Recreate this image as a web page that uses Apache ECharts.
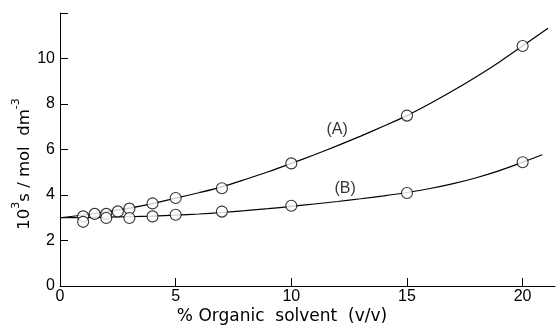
<!DOCTYPE html>
<html>
<head>
<meta charset="utf-8">
<script src="https://cdn.jsdelivr.net/npm/echarts@6/dist/echarts.min.js"></script>
<style>html,body{margin:0;padding:0;background:#fff;}#c{width:560px;height:326px;}</style>
</head>
<body>
<div id="c"></div>
<script>
// measured points
var xA = [1, 1.5, 2, 2.5, 3, 4, 5, 7, 10, 15, 20];
var yA = [3.06, 3.17, 3.17, 3.28, 3.40, 3.63, 3.87, 4.30, 5.39, 7.49, 10.55];
var xB = [1, 2, 3, 4, 5, 7, 10, 15, 20];
var yB = [2.82, 2.99, 2.99, 3.06, 3.13, 3.27, 3.53, 4.09, 5.44];
// fitted curves
var curveAx = [0, 1, 2, 3, 4, 5, 6, 7, 8, 9, 10, 11, 12, 13, 14, 15, 16, 17, 18, 19, 20, 21.1];
var curveAy = [3.0, 3.12, 3.26, 3.42, 3.62, 3.86, 4.1, 4.36, 4.68, 5.02, 5.39, 5.77, 6.17, 6.59, 7.03, 7.49, 8.02, 8.59, 9.2, 9.85, 10.55, 11.33];
var curveBx = [0, 1, 2, 3, 4, 5, 6, 7, 8, 9, 10, 11, 12, 13, 14, 15, 16, 17, 18, 19, 20, 20.85];
var curveBy = [3.0, 3.01, 3.025, 3.045, 3.075, 3.115, 3.165, 3.23, 3.31, 3.4, 3.5, 3.605, 3.715, 3.835, 3.965, 4.11, 4.285, 4.5, 4.76, 5.07, 5.44, 5.77];
var xTicks = [0, 5, 10, 15, 20];
var yTicks = [0, 2, 4, 6, 8, 10];
var seriesNames = ['(A)', '(B)'];
var labelPos = [[11.98, 6.89], [12.33, 4.28]];

function zip(a, b) { return a.map(function (v, i) { return [v, b[i]]; }); }

var chart = echarts.init(document.getElementById('c'), null, {renderer: 'canvas'});
var FONT = 'Liberation Sans';
var FONT2 = 'DejaVu Sans';
chart.setOption({
  animation: false,
  backgroundColor: '#fff',
  grid: {left: 60, right: 5, top: 13, bottom: 40},
  xAxis: {
    type: 'value', min: 0, max: 21.4, interval: 5,
    axisLine: {show: true, lineStyle: {color: '#000', width: 1}},
    axisTick: {show: true, inside: true, length: 8, lineStyle: {color: '#000'}},
    splitLine: {show: false},
    axisLabel: {color: '#000', fontSize: 16, fontFamily: FONT, margin: 3, showMaxLabel: false,
      formatter: function (v) { return xTicks.indexOf(v) >= 0 ? String(v) : ''; }}
  },
  yAxis: {
    type: 'value', min: 0, max: 12, interval: 2,
    axisLine: {show: true, lineStyle: {color: '#000', width: 1}},
    axisTick: {show: true, inside: true, length: 8, lineStyle: {color: '#000'}},
    splitLine: {show: false},
    axisLabel: {color: '#000', fontSize: 16, fontFamily: FONT, margin: 5,
      formatter: function (v) { return yTicks.indexOf(v) >= 0 ? String(v) : ''; }}
  },
  graphic: [
    {type: 'text', x: 22, y: 164, rotation: Math.PI / 2,
      style: {text: '{n|10}{s|3}{n|s / mol  dm}{s|-3}', textAlign: 'center', textVerticalAlign: 'middle',
        fill: '#000',
        rich: {
          n: {fontSize: 16.5, fontFamily: FONT2, fill: '#000', lineHeight: 22, verticalAlign: 'bottom'},
          s: {fontSize: 11, fontFamily: FONT2, fill: '#000', lineHeight: 22, verticalAlign: 'top'}
        }}},
    {type: 'text', x: 282, y: 317,
      style: {text: '% Organic  solvent  (v/v)', textAlign: 'center', textVerticalAlign: 'middle',
        fill: '#000', fontSize: 17, fontFamily: FONT2}}
  ],
  series: [
    {type: 'line', data: zip(curveAx, curveAy), smooth: 0.3, showSymbol: false, symbol: 'none',
      lineStyle: {color: '#000', width: 1.2}, z: 2},
    {type: 'line', data: zip(curveBx, curveBy), smooth: 0.3, showSymbol: false, symbol: 'none',
      lineStyle: {color: '#000', width: 1.2}, z: 2},
    {type: 'scatter', data: zip(xA, yA), symbol: 'circle', symbolSize: 11,
      itemStyle: {color: '#fff', borderColor: '#000', borderWidth: 1.1}, z: 3},
    {type: 'scatter', data: zip(xB, yB), symbol: 'circle', symbolSize: 11,
      itemStyle: {color: '#fff', borderColor: '#000', borderWidth: 1.1}, z: 3},
    {type: 'scatter', data: labelPos.map(function (p, i) { return {value: p, name: seriesNames[i]}; }),
      symbol: 'circle', symbolSize: 2, silent: true, z: 4,
      itemStyle: {color: 'rgba(0,0,0,0)'},
      label: {show: true, position: 'inside', formatter: function (p) { return p.name; },
        color: '#000', fontSize: 16, fontFamily: FONT}}
  ]
});
</script>
</body>
</html>
